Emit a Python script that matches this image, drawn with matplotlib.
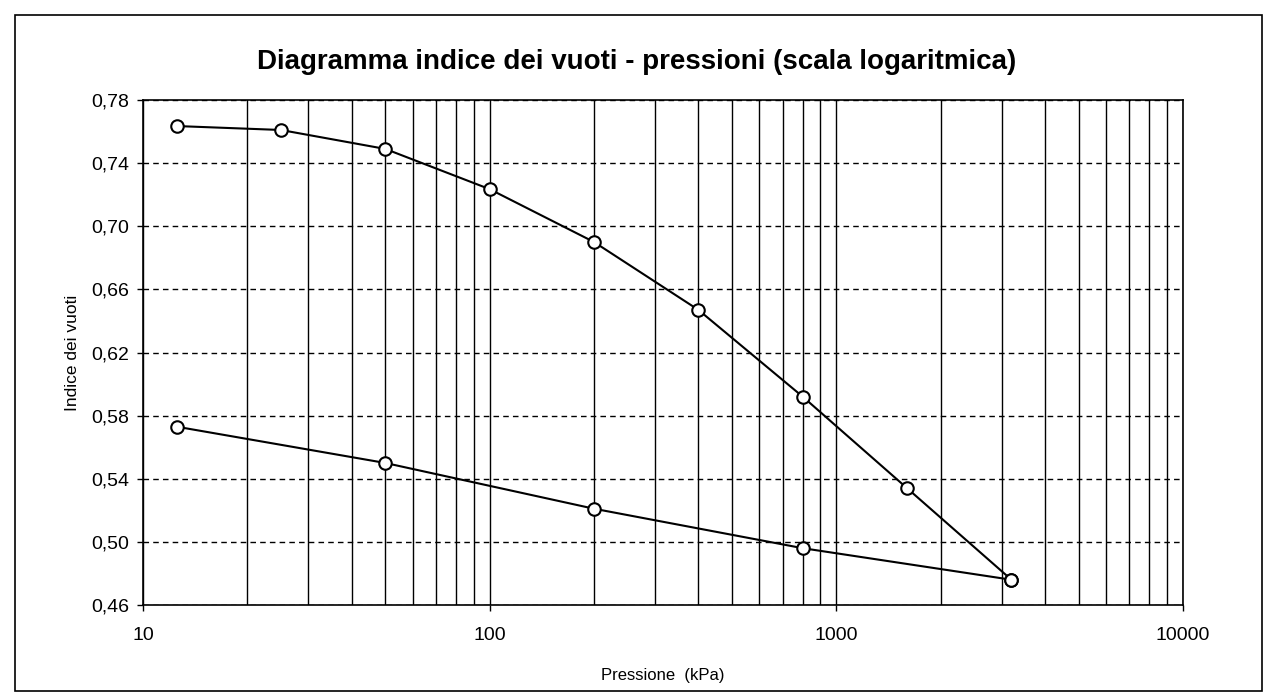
import matplotlib
matplotlib.use('Agg')
import matplotlib.pyplot as plt
from matplotlib.ticker import FixedLocator, FuncFormatter, LogLocator, NullFormatter
from matplotlib.patches import Rectangle

plt.rcParams['font.family'] = ['Liberation Sans', 'DejaVu Sans']

# carico
p_carico = [12.5, 25, 50, 100, 200, 400, 800, 1600, 3200]
e_carico = [0.7635, 0.761, 0.749, 0.7235, 0.690, 0.647, 0.592, 0.534, 0.476]
# scarico
p_scarico = [3200, 800, 200, 50, 12.5]
e_scarico = [0.476, 0.496, 0.521, 0.550, 0.573]

y_ticks = [0.46, 0.50, 0.54, 0.58, 0.62, 0.66, 0.70, 0.74, 0.78]
x_ticks = [10, 100, 1000, 10000]

W, H = 1273, 700
fig = plt.figure(figsize=(W / 100, H / 100), dpi=100)
ax = fig.add_axes([143 / W, 1 - 605 / H, (1183 - 143) / W, (605 - 100) / H])

# cornice esterna
fig.patches.append(Rectangle((15 / W, 9 / H), (1262 - 15) / W, (685 - 9) / H,
                             transform=fig.transFigure, fill=False,
                             edgecolor='black', linewidth=1.2))

kw = dict(color='black', linewidth=1.5, marker='o', markersize=9,
          markerfacecolor='white', markeredgecolor='black', markeredgewidth=1.5,
          zorder=3)
ax.plot(p_carico, e_carico, **kw)
ax.plot(p_scarico, e_scarico, **kw)

ax.set_xscale('log')
ax.set_xlim(10, 10000)
ax.set_ylim(0.46, 0.78)
ax.xaxis.set_major_locator(FixedLocator(x_ticks))
ax.xaxis.set_minor_locator(LogLocator(base=10, subs=range(2, 10)))
ax.xaxis.set_minor_formatter(NullFormatter())
ax.xaxis.set_major_formatter(FuncFormatter(lambda v, pos: '%d' % v))
ax.yaxis.set_major_locator(FixedLocator(y_ticks))
ax.yaxis.set_major_formatter(FuncFormatter(lambda v, pos: ('%.2f' % v).replace('.', ',')))

ax.grid(True, axis='x', which='both', color='black', linewidth=1.0)
ax.grid(True, axis='y', which='major', color='black', linewidth=1.0,
        linestyle=(0, (4, 3)))
ax.tick_params(axis='both', which='major', labelsize=14, length=4, width=1,
               direction='out')
ax.tick_params(axis='y', which='major', pad=6)
ax.tick_params(axis='x', which='major', pad=12)
ax.tick_params(axis='x', which='minor', length=0)
for s in ax.spines.values():
    s.set_linewidth(1.2)

ax.set_xlabel('Pressione  (kPa)', fontsize=12, labelpad=17)
ax.set_ylabel('Indice dei vuoti', fontsize=12.5, labelpad=8)
fig.text(0.5, 1 - 62 / H, 'Diagramma indice dei vuoti - pressioni (scala logaritmica)',
         ha='center', va='center', fontsize=20, fontweight='bold')

fig.savefig('out.png', dpi=100)
